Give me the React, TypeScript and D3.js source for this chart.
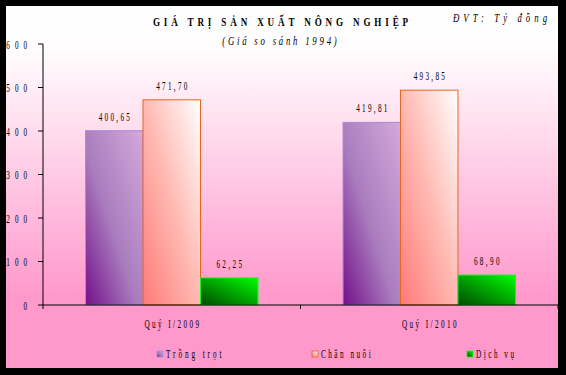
import React from "react";
import * as d3 from "d3";

const categories = ["Quý I/2009", "Quý I/2010"];
const seriesNames = ["Trồng trọt", "Chăn nuôi", "Dịch vụ"];
const trongTrot = [400.65, 419.81];
const chanNuoi = [471.7, 493.85];
const dichVu = [62.25, 68.9];
const yTicks = [0, 100, 200, 300, 400, 500, 600];
const titleText = "GIÁ TRỊ SẢN XUẤT NÔNG NGHIỆP";
const subtitleText = "(Giá so sánh 1994)";
const unitText = "ĐVT: Tỷ đồng";

const seriesValues = [trongTrot, chanNuoi, dichVu];

const W = 566;
const H = 375;
const plot = { left: 43, right: 558, top: 44, bottom: 305 };

const viLocale = d3.formatLocale({ decimal: ",", thousands: ".", grouping: [3], currency: ["", ""] });
const fmt = viLocale.format(".2f");

type TxtProps = {
  x: number; y: number; s: string; size: number; sx: number; adv?: number;
  anchor?: "start" | "middle" | "end"; weight?: string; italic?: boolean;
};

function Txt({ x, y, s, size, sx, adv, anchor = "middle", weight = "normal", italic = false }: TxtProps) {
  const n = Array.from(s).length;
  const vis = adv && n > 1 ? (n - 1) * adv + size * 0.45 * sx : undefined;
  return (
    <text
      transform={`translate(${x},${y}) scale(${sx},1)`}
      textAnchor={anchor}
      fontSize={size}
      fontFamily="'Liberation Serif', serif"
      fontWeight={weight}
      fontStyle={italic ? "italic" : "normal"}
      fill="#000"
      textLength={vis ? vis / sx : undefined}
      lengthAdjust="spacing"
    >
      {s}
    </text>
  );
}

const gradDefs = [
  { id: "gPurple", stops: [["0", "#74108A"], ["0.45", "#A97CBE"], ["1", "#D4A9DA"]], stroke: "#A88ADB" },
  { id: "gOrange", stops: [["0", "#FF7A78"], ["0.5", "#FFB9B2"], ["1", "#FFFFFF"]], stroke: "#E8661E" },
  { id: "gGreen", stops: [["0", "#004A00"], ["0.5", "#00A300"], ["1", "#00FF00"]], stroke: "#22F022" },
];

export default function App() {
  const x0 = d3.scaleBand<string>().domain(categories).range([plot.left, plot.right]).paddingInner(0).paddingOuter(0);
  const x1 = d3.scaleBand<string>().domain(seriesNames).range([0, x0.bandwidth()]).paddingInner(0).paddingOuter(0.74);
  const y = d3.scaleLinear().domain([0, 600]).range([plot.bottom, plot.top]);
  const legendX = d3.scalePoint<string>().domain(seriesNames).range([157, 467]);

  return (
    <svg width={W} height={H} style={{ position: "absolute", left: 0, top: 0 }}>
      <defs>
        <linearGradient id="bg" x1="0" y1="0" x2="0" y2="1">
          <stop offset="0" stopColor="#FFFFFF" />
          <stop offset="0.12" stopColor="#FFFDFE" />
          <stop offset="0.8" stopColor="#FF99CC" />
          <stop offset="1" stopColor="#FF99CC" />
        </linearGradient>
        {gradDefs.map((g) => (
          <linearGradient key={g.id} id={g.id} x1="0" y1="1" x2="1" y2="0">
            {g.stops.map(([o, c]) => (
              <stop key={o} offset={o} stopColor={c} />
            ))}
          </linearGradient>
        ))}
      </defs>
      <rect x={0} y={0} width={W} height={H} fill="#000" />
      <rect x={6} y={6} width={552} height={362} fill="url(#bg)" />

      <Txt x={280.5} y={26} s={titleText} size={13} sx={0.7} adv={9.3} weight="bold" />
      <Txt x={279.5} y={45} s={subtitleText} size={12.5} sx={0.7} adv={6.5} italic />
      <Txt x={500} y={22} s={unitText} size={12.5} sx={0.7} adv={8.2} italic />

      {/* bars */}
      {categories.map((c, ci) => (
        <g key={c} transform={`translate(${x0(c)},0)`}>
          {seriesNames.map((sname, si) => {
            const v = seriesValues[si][ci];
            const bx = x1(sname)!;
            const bw = x1.bandwidth();
            return (
              <g key={sname}>
                <rect x={bx} y={y(v)} width={bw} height={y(0) - y(v)} fill={`url(#${gradDefs[si].id})`} stroke={gradDefs[si].stroke} strokeWidth={1} />
                <Txt x={bx + bw / 2} y={y(v) - 10} s={fmt(v)} size={12} sx={0.6} adv={5.6} />
              </g>
            );
          })}
        </g>
      ))}

      {/* y axis */}
      <line x1={plot.left} x2={plot.left} y1={y(600)} y2={y(0)} stroke="#000" />
      {yTicks.map((t) => (
        <g key={t}>
          <line x1={plot.left - 5} x2={plot.left} y1={y(t)} y2={y(t)} stroke="#000" />
          <Txt x={27} y={y(t) + 4.5} s={String(t)} size={12} sx={0.6} adv={8.7} anchor="end" />
        </g>
      ))}

      {/* x axis */}
      <line x1={plot.left} x2={plot.right} y1={y(0)} y2={y(0)} stroke="#000" />
      {[plot.left, ...categories.map((c) => x0(c)! + x0.bandwidth())].map((tx, i) => (
        <line key={i} x1={tx} x2={tx} y1={y(0)} y2={y(0) + 4} stroke="#000" />
      ))}
      {categories.map((c) => (
        <Txt key={c} x={x0(c)! + x0.bandwidth() / 2} y={328} s={c} size={12} sx={0.6} adv={5.7} />
      ))}

      {/* legend */}
      {seriesNames.map((sname, si) => (
        <g key={sname}>
          <rect x={legendX(sname)!} y={351} width={6} height={6} fill={`url(#${gradDefs[si].id})`} stroke={gradDefs[si].stroke} strokeWidth={0.8} />
          <Txt x={legendX(sname)! + 9} y={358} s={sname} size={12} sx={0.6} adv={5.8} anchor="start" />
        </g>
      ))}
    </svg>
  );
}
